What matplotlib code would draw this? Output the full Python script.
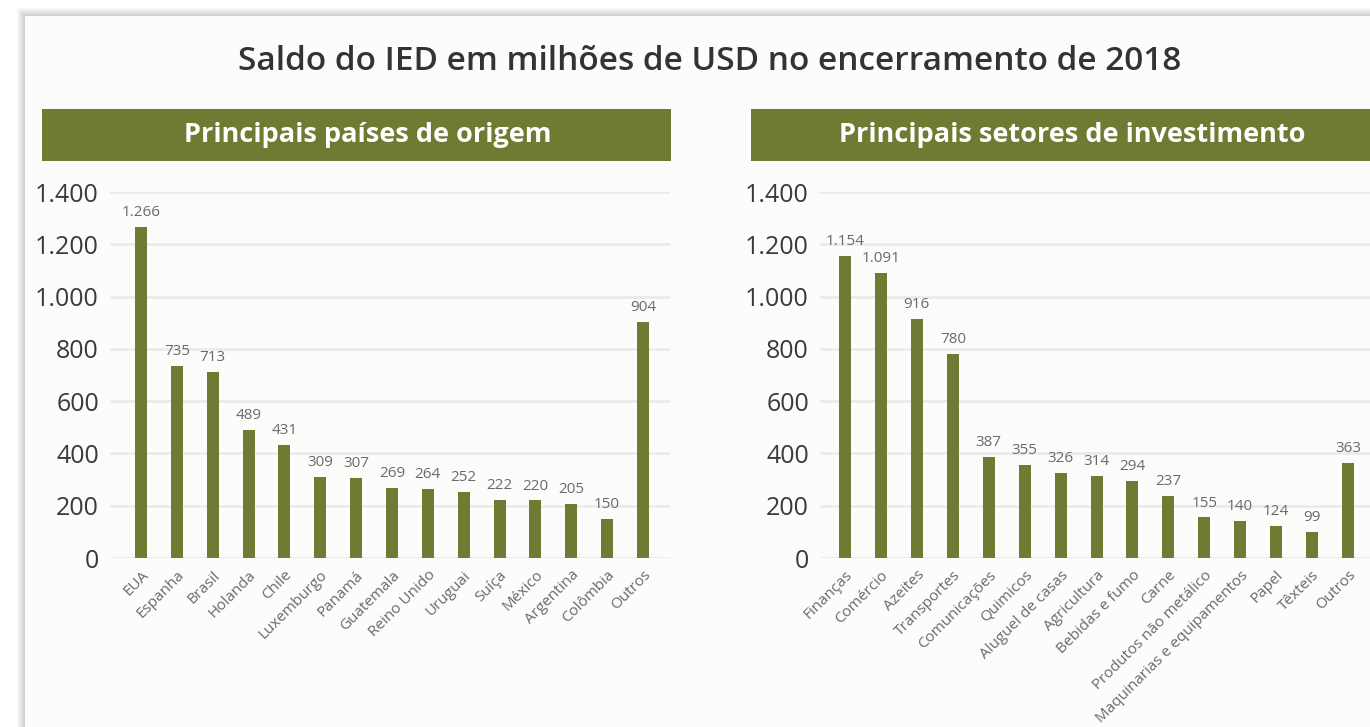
import numpy as np
import matplotlib.pyplot as plt
from matplotlib.patches import Rectangle

# dados
paises = ['EUA', 'Espanha', 'Brasil', 'Holanda', 'Chile', 'Luxemburgo', 'Panamá',
          'Guatemala', 'Reino Unido', 'Uruguai', 'Suíça', 'México', 'Argentina',
          'Colômbia', 'Outros']
paises_val = [1266, 735, 713, 489, 431, 309, 307, 269, 264, 252, 222, 220, 205, 150, 904]

setores = ['Finanças', 'Comércio', 'Azeites', 'Transportes', 'Comunicações', 'Quimicos',
           'Aluguel de casas', 'Agricultura', 'Bebidas e fumo', 'Carne',
           'Produtos não metálico', 'Maquinarias e equipamentos', 'Papel', 'Têxteis', 'Outros']
setores_val = [1154, 1091, 916, 780, 387, 355, 326, 314, 294, 237, 155, 140, 124, 99, 363]

yticks = [0, 200, 400, 600, 800, 1000, 1200, 1400]

verde = '#6e7b32'
fonte = ['Open Sans', 'DejaVu Sans']
plt.rcParams['font.family'] = fonte

W, H = 1370, 727
fig = plt.figure(figsize=(W / 100, H / 100), dpi=100)
fig.patch.set_facecolor('white')

def fx(px):
    return px / W

def fy(py):
    return 1 - py / H

# sombra + cartao
for i in range(8):
    d = 8 - i
    fig.patches.append(Rectangle((fx(25 - d), fy(H + 10)), 2, (H + 10 - 16 + d) / H,
                                 transform=fig.transFigure, facecolor='#000000',
                                 alpha=0.025, edgecolor='none', zorder=-3))
fig.patches.append(Rectangle((fx(25), 0), 2, fy(16), transform=fig.transFigure,
                             facecolor='#fdfcfa', edgecolor='none', zorder=-2))

fig.text(fx(710), fy(62), 'Saldo do IED em milhões de USD no encerramento de 2018',
         ha='center', va='center', fontsize=24, color='#333333', fontweight='semibold')

def fmt(v):
    return f'{v:,}'.replace(',', '.')

def painel(x0, x1, titulo, tx, ax_left, ax_right, c0, c1, cats, vals):
    fig.patches.append(Rectangle((fx(x0), fy(161)), (x1 - x0) / W, 52 / H,
                                 transform=fig.transFigure, facecolor=verde,
                                 edgecolor='none', zorder=2))
    fig.text(fx(tx), fy(135), titulo, ha='center', va='center', fontsize=19.5,
             color='white', fontweight='bold', zorder=3)
    ax = fig.add_axes([fx(ax_left), fy(558), (ax_right - ax_left) / W, (558 - 192) / H])
    ax.set_facecolor('none')
    ax.set_zorder(5)
    step = (c1 - c0) / 14
    x = np.arange(len(cats))
    ax.bar(x, vals, width=12 / step, color=verde, zorder=3)
    for xi, v in zip(x, vals):
        ax.annotate(fmt(v), (xi, v), xytext=(0, 5), textcoords='offset points',
                    ha='center', va='bottom', fontsize=11, color='#6a6a6a')
    ax.set_xlim((ax_left - c0) / step, (ax_right - c0) / step)
    ax.set_ylim(0, 1400)
    ax.set_yticks(yticks)
    ax.set_yticklabels([fmt(t) for t in yticks], fontsize=18, color='#3a3a3a')
    ax.set_xticks(x)
    ax.set_xticklabels(cats, rotation=45, ha='right', rotation_mode='anchor',
                       fontsize=11, color='#6a6a6a')
    ax.tick_params(axis='both', length=0)
    ax.tick_params(axis='y', pad=8)
    ax.tick_params(axis='x', pad=7)
    ax.yaxis.grid(True, color='#ebebeb', linewidth=2, zorder=0)
    ax.set_axisbelow(True)
    for s in ax.spines.values():
        s.set_visible(False)
    return ax

painel(42, 671, 'Principais países de origem', 368, 110, 670, 141, 643, paises, paises_val)
painel(751, 1380, 'Principais setores de investimento', 1072, 820, 1370, 845, 1348,
       setores, setores_val)

fig.savefig('out.png', dpi=100, facecolor=fig.get_facecolor())
